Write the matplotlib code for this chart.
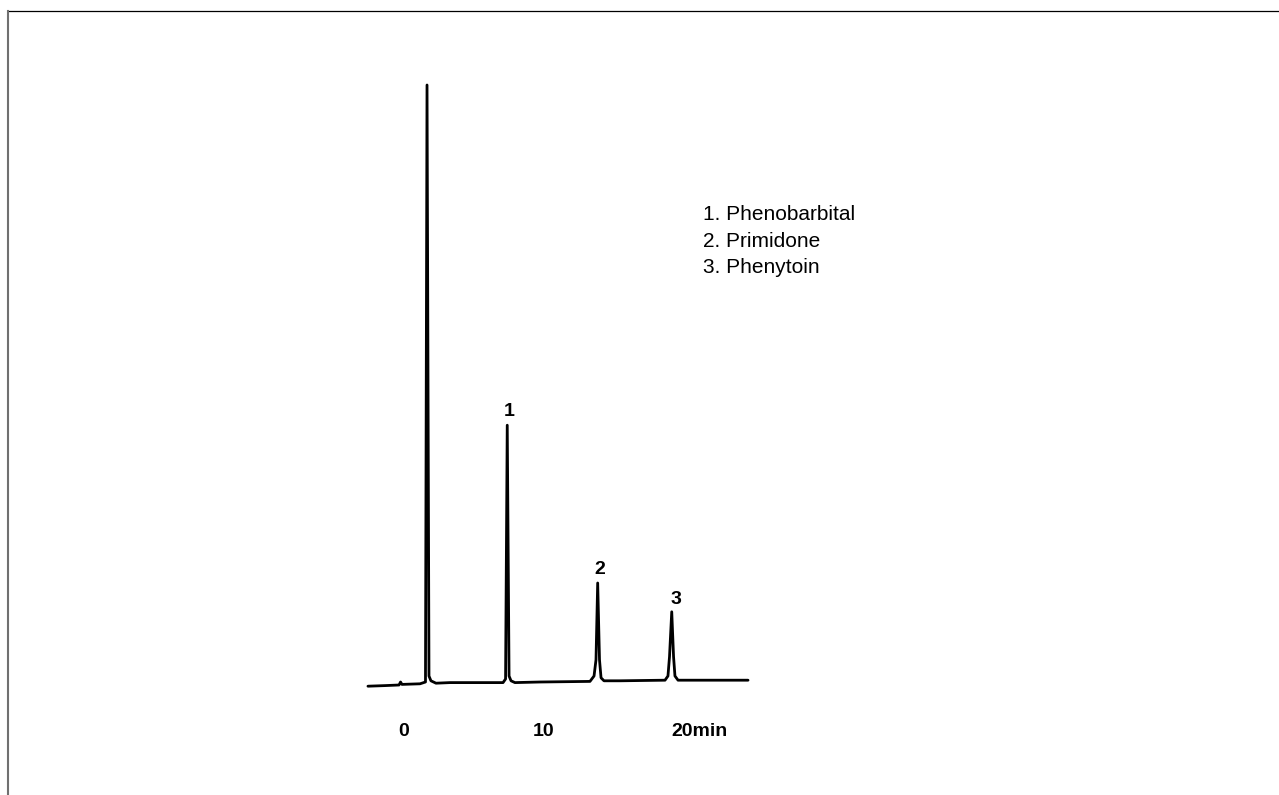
import matplotlib
matplotlib.use("Agg")
import matplotlib.pyplot as plt
from matplotlib.lines import Line2D

# Chromatogram trace: time (min) and detector signal (arb. units)
trace_time = [-2.54, -1.32, -0.32, -0.21, -0.11, 1.18, 1.57, 1.68, 1.82, 1.96, 2.32,
              3.32, 5.46, 7.11, 7.29, 7.41, 7.54, 7.68, 7.96, 9.75, 13.32, 13.61,
              13.75, 13.87, 14.00, 14.11, 14.32, 15.46, 18.68, 18.89, 19.00, 19.16,
              19.29, 19.39, 19.61, 21.18, 24.61]
trace_signal = [-0.2, -0.1, 0.0, 0.5, 0.1, 0.2, 0.5, 100.0, 1.5, 0.7, 0.3,
                0.4, 0.4, 0.4, 1.0, 43.3, 1.5, 0.7, 0.4, 0.5, 0.6, 1.5,
                4.2, 17.0, 4.2, 1.2, 0.7, 0.7, 0.8, 1.5, 4.7, 12.2,
                4.7, 1.5, 0.8, 0.8, 0.8]

# Peak labels
peak_labels = ["1", "2", "3"]
peak_label_time = [7.54, 14.04, 19.46]
peak_label_signal = [45.5, 19.2, 14.2]

# Time axis labels
time_ticks = [0, 10, 20]
time_tick_labels = ["0", "10", "20min"]

# Compound legend
compounds = ["1. Phenobarbital", "2. Primidone", "3. Phenytoin"]

W, H, DPI = 1279, 795, 100
fig = plt.figure(figsize=(W / DPI, H / DPI), dpi=DPI)
ax = fig.add_axes([0, 0, 1, 1])
ax.set_axis_off()

px_per_min = 14.0
x0_px = 403.5
px_per_unit = 6.0
y0_px = 685
ax.set_xlim(-x0_px / px_per_min, (W - x0_px) / px_per_min)
ax.set_ylim(-(H - y0_px) / px_per_unit, y0_px / px_per_unit)

ax.plot(trace_time, trace_signal, color="black", lw=2.0, solid_joinstyle="round",
        solid_capstyle="round")

bold_font = dict(family=["Liberation Sans", "DejaVu Sans"], fontweight="bold", fontsize=14)
for lab, t, s in zip(peak_labels, peak_label_time, peak_label_signal):
    ax.text(t, s, lab, ha="center", va="center", **bold_font)

label_y = -(731 - y0_px) / px_per_unit
for t, lab in zip(time_ticks, time_tick_labels):
    if lab.endswith("min"):
        ax.text(t - 0.85, label_y, lab, ha="left", va="center", **bold_font)
    else:
        ax.text(t, label_y, lab, ha="center", va="center", **bold_font)

# Legend text (figure pixel placement)
for i, c in enumerate(compounds):
    fig.text(703 / W, 1 - (215 + i * 26.5) / H, c, ha="left", va="center",
             family=["Liberation Sans", "DejaVu Sans"], fontsize=15)

# Frame lines: top and left
fig.add_artist(Line2D([8 / W, 1.0], [1 - 11 / H, 1 - 11 / H], color="black", lw=0.9,
                      transform=fig.transFigure))
fig.add_artist(Line2D([8 / W, 8 / W], [1 - 11 / H, 0.0], color="#707070", lw=1.5,
                      transform=fig.transFigure))

fig.savefig("out.png", dpi=DPI)
